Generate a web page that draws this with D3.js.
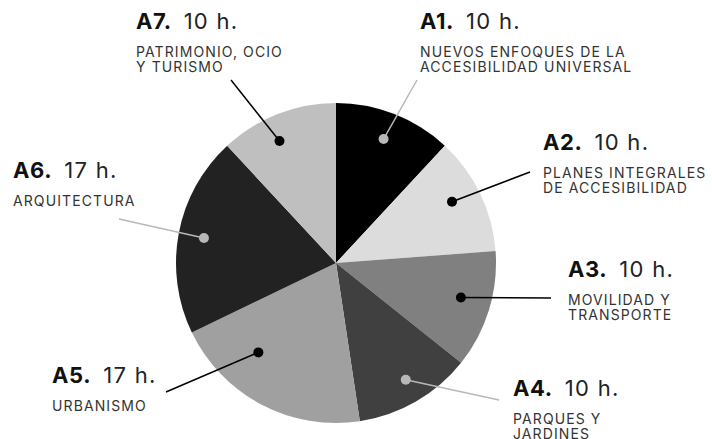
<!DOCTYPE html>
<html>
<head>
<meta charset="utf-8">
<script src="https://cdn.jsdelivr.net/npm/d3@7"></script>
<style>
  html, body { margin: 0; padding: 0; background: #fff; }
  svg { display: block; }
  .code { font-family: Inter, "Noto Sans", sans-serif; font-weight: 700; font-size: 22px; fill: #111; letter-spacing: 0.6px; }
  .hours { font-family: Inter, "Noto Sans", sans-serif; font-weight: 400; font-size: 22px; fill: #222; letter-spacing: 1.3px; }
  .desc { font-family: Inter, "Noto Sans", sans-serif; font-weight: 400; font-size: 14px; fill: #333; letter-spacing: 1.1px; }
</style>
</head>
<body>
<script>
// ---- Data ----
const codes = ["A1", "A2", "A3", "A4", "A5", "A6", "A7"];
const hours = [10, 10, 10, 10, 17, 17, 10];
const descriptions = [
  ["NUEVOS ENFOQUES DE LA", "ACCESIBILIDAD UNIVERSAL"],
  ["PLANES INTEGRALES", "DE ACCESIBILIDAD"],
  ["MOVILIDAD Y", "TRANSPORTE"],
  ["PARQUES Y", "JARDINES"],
  ["URBANISMO"],
  ["ARQUITECTURA"],
  ["PATRIMONIO, OCIO", "Y TURISMO"]
];

// ---- Styles / layout ----
const sliceColors = ["#000000", "#dcdcdc", "#808080", "#404040", "#a0a0a0", "#222222", "#bfbfbf"];
const markerColors = ["#b8b8b8", "#000", "#000", "#b8b8b8", "#000", "#b8b8b8", "#000"];
// label anchor (x, title baseline y), leader line end, dot placement within slice
const layout = [
  { x: 420, y: 29,  lx: 417, ly: 80,  t: 0.49, r: 0.83 },
  { x: 543, y: 150, lx: 530, ly: 172, t: 0.45, r: 0.82 },
  { x: 568, y: 277, lx: 551, ly: 298, t: 0.46, r: 0.81 },
  { x: 513, y: 396, lx: 499, ly: 400, t: 0.48, r: 0.85 },
  { x: 52,  y: 383, lx: 166, ly: 392, t: 0.68, r: 0.74 },
  { x: 13,  y: 178, lx: 119, ly: 219, t: 0.50, r: 0.84 },
  { x: 136, y: 29,  lx: 231, ly: 80,  t: 0.42, r: 0.84 }
];

const W = 712, H = 439;
const cx = 336, cy = 263, R = 160;

const svg = d3.select("body").append("svg").attr("width", W).attr("height", H);
const g = svg.append("g").attr("transform", `translate(${cx},${cy})`);

const data = codes.map((c, i) => ({ code: c, hours: hours[i], desc: descriptions[i], i }));
const pie = d3.pie().value(d => d.hours).sort(null).startAngle(0).endAngle(2 * Math.PI);
const arcs = pie(data);
const arc = d3.arc().innerRadius(0).outerRadius(R);

g.selectAll("path.slice").data(arcs).join("path")
  .attr("class", "slice")
  .attr("d", arc)
  .attr("fill", d => sliceColors[d.data.i]);

// markers and labels
arcs.forEach(a => {
  const L = layout[a.data.i];
  const ang = a.startAngle + (a.endAngle - a.startAngle) * L.t;
  const rr = R * L.r;
  const px = cx + rr * Math.sin(ang), py = cy - rr * Math.cos(ang);
  const col = markerColors[a.data.i];
  svg.append("line")
    .attr("x1", px).attr("y1", py).attr("x2", L.lx).attr("y2", L.ly)
    .attr("stroke", col).attr("stroke-width", 1.5);
  svg.append("circle").attr("cx", px).attr("cy", py).attr("r", 5).attr("fill", col);

  const t = svg.append("text").attr("x", L.x).attr("y", L.y);
  t.append("tspan").attr("class", "code").text(a.data.code + ".");
  t.append("tspan").attr("class", "hours").attr("dx", 12).text(a.data.hours + " h.");
  a.data.desc.forEach((line, k) => {
    svg.append("text").attr("class", "desc")
      .attr("x", L.x).attr("y", L.y + 27.5 + k * 15.7)
      .text(line);
  });
});
</script>
</body>
</html>
